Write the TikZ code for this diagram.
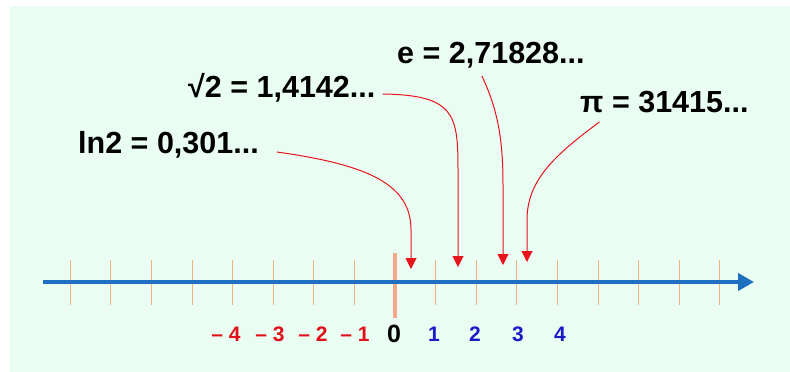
\documentclass[tikz,border=0pt]{standalone}
\usepackage{fontspec}
\setmainfont{Liberation Sans}
\usetikzlibrary{arrows.meta}
\definecolor{bgmint}{HTML}{EAFDF3}
\definecolor{axisblue}{HTML}{1F6FC0}
\definecolor{tickorange}{HTML}{F2B27C}
\definecolor{zerosalmon}{HTML}{F5A88A}
\definecolor{ptrred}{HTML}{E8141C}
\definecolor{negred}{HTML}{E0101A}
\definecolor{posblue}{HTML}{1A1AC8}
\begin{document}
\begin{tikzpicture}[
  x=1pt,y=-1pt,every node/.style={inner sep=0pt},
  val/.style={anchor=base west,font=\fontsize{30.5}{34}\selectfont\bfseries},
  negnum/.style={anchor=base,text=negred,font=\fontsize{21}{25}\selectfont\bfseries},
  posnum/.style={anchor=base,text=posblue,font=\fontsize{21}{25}\selectfont\bfseries},
  tickmark/.style={draw=tickorange,line width=1pt},
  ptr/.style={draw=ptrred,line width=1pt,-{Triangle[width=11pt,length=11pt]}}]
  \useasboundingbox (0,0) rectangle (790,372);
  \fill[bgmint] (10,6) rectangle (790,372);

  % the line, one tick per half unit
  \foreach \k in {-8,...,8}
    \draw[tickmark] (395+40.6*\k,260) -- (395+40.6*\k,305);
  \draw[draw=zerosalmon,line width=3.5pt] (395,253) -- (395,318);
  \coordinate (axl) at (43,282);
  \coordinate (axr) at (754,282);
  \draw[axisblue,line width=4.5pt,-{Triangle[width=17pt,length=16pt]}] (axl) -- (axr);

  % labels under the line
  \foreach \x/\t [count=\i] in {226/{– 4},270/{– 3},313/{– 2},355/{– 1}}
    \node[negnum] (m\i) at (\x,341) {\t};
  \node[anchor=base,font=\fontsize{25}{29}\selectfont\bfseries] (z) at (394,342) {0};
  \foreach \x/\t in {434/1,475/2,518/3,560/4}
    \node[posnum] (p\t) at (\x,341) {\t};

  % the four numbers and where they sit
  \node[val] (lntxt) at (78,153) {ln2 = 0,301...};
  \node[val] (sqtxt) at (188,97) {√2 = 1,4142...};
  \node[val] (etxt) at (397,63) {e = 2,71828...};
  \node[val] (pitxt) at (580,112) {π = 31415...};
  \coordinate (lnpt) at (411,269);
  \coordinate (sqpt) at (458,267);
  \coordinate (ept) at (503,265);
  \coordinate (pipt) at (527,262);
  \draw[ptr] ([shift={(18pt,1pt)}]lntxt.base east)
    .. controls (370,165) and (411,185) .. (411,230) -- (lnpt);
  \draw[ptr] ([shift={(7pt,3pt)}]sqtxt.base east)
    .. controls (455,95) and (458,115) .. (458,170) -- (sqpt);
  \draw[ptr] ([shift={(-9pt,-13pt)}]etxt.base)
    .. controls (498,110) and (503,140) .. (503,185) -- (ept);
  \draw[ptr] ([shift={(-65pt,-10pt)}]pitxt.base)
    .. controls (555,155) and (527,180) .. (527,220) -- (pipt);
\end{tikzpicture}
\end{document}
